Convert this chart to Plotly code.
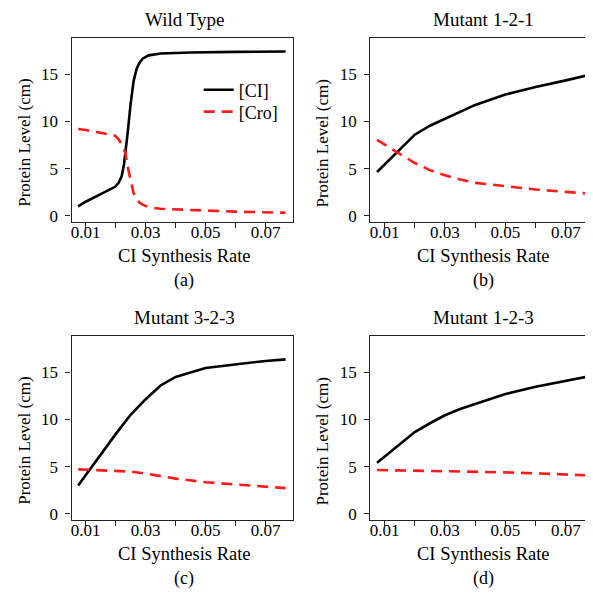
import plotly.graph_objects as go

# ---------------- data ----------------
wt_x = [0.0075, 0.01, 0.015, 0.0198, 0.021, 0.022, 0.0228, 0.0233, 0.024, 0.025,
        0.026, 0.027, 0.028, 0.029, 0.031, 0.035, 0.045, 0.06, 0.0767]
wt_ci = [1.0, 1.5, 2.3, 3.08, 3.5, 4.2, 5.5, 6.75, 8.8, 11.9,
         14.3, 15.6, 16.25, 16.65, 17.0, 17.2, 17.3, 17.37, 17.41]
wt_cro = [9.2, 9.1, 8.8, 8.5, 8.1, 7.6, 7.0, 6.6, 5.2, 3.6,
          2.4, 1.75, 1.4, 1.2, 0.92, 0.75, 0.6, 0.45, 0.34]

mut_x = [0.0075, 0.014, 0.02, 0.025, 0.03, 0.035, 0.04, 0.05, 0.06, 0.07, 0.0767]
m121_ci = [4.65, 6.72, 8.6, 9.55, 10.3, 11.05, 11.75, 12.85, 13.65, 14.35, 14.85]
m121_cro = [8.04, 6.8, 5.6, 4.85, 4.3, 3.85, 3.5, 3.15, 2.8, 2.55, 2.38]
m323_ci = [3.0, 5.85, 8.45, 10.5, 12.15, 13.6, 14.5, 15.45, 15.85, 16.2, 16.36]
m323_cro = [4.72, 4.65, 4.58, 4.48, 4.27, 4.0, 3.74, 3.36, 3.12, 2.87, 2.73]
m123_ci = [5.42, 7.14, 8.67, 9.6, 10.45, 11.1, 11.64, 12.69, 13.46, 14.09, 14.5]
m123_cro = [4.65, 4.62, 4.58, 4.55, 4.52, 4.5, 4.48, 4.4, 4.3, 4.16, 4.09]

panel_titles = ["Wild Type", "Mutant 1-2-1", "Mutant 3-2-3", "Mutant 1-2-3"]
panel_labels = ["(a)", "(b)", "(c)", "(d)"]
x_title = "CI Synthesis Rate"
y_title = "Protein Level (cm)"
series_names = ["[CI]", "[Cro]"]

x_tickvals = [0.01, 0.02, 0.03, 0.04, 0.05, 0.06, 0.07]
x_ticktext = ["0.01", "", "0.03", "", "0.05", "", "0.07"]
y_tickvals = [0, 5, 10, 15]

panels = [
    (wt_x, wt_ci, wt_cro),
    (mut_x, m121_ci, m121_cro),
    (mut_x, m323_ci, m323_cro),
    (mut_x, m123_ci, m123_cro),
]

# ---------------- layout geometry (pixels) ----------------
W, H = 593, 603
FONT = "Liberation Serif"
boxes = [  # left, right, top, bottom in px
    (62.7, 284.0, 30.0, 215.0),
    (362.0, 585.0, 30.0, 215.0),
    (62.7, 284.0, 330.0, 515.0),
    (362.0, 585.0, 330.0, 515.0),
]

def px(xp):
    return xp / W

def py(yp):
    return 1 - yp / H

fig = go.Figure()
annotations = []
for i, ((xs, ci, cro), (l, r, t, b)) in enumerate(zip(panels, boxes)):
    n = "" if i == 0 else str(i + 1)
    xa, ya = "x" + n, "y" + n
    fig.add_trace(go.Scatter(x=xs, y=ci, mode="lines", name=series_names[0],
                             line=dict(color="black", width=2.6),
                             xaxis=xa, yaxis=ya, showlegend=(i == 0),
                             legend="legend"))
    fig.add_trace(go.Scatter(x=xs, y=cro, mode="lines", name=series_names[1],
                             line=dict(color="#ff1a1a", width=2.6, dash="11px,7px"),
                             xaxis=xa, yaxis=ya, showlegend=(i == 0),
                             legend="legend2"))
    axcommon = dict(showline=True, mirror=True, linecolor="#222", linewidth=1.3,
                    ticks="outside", ticklen=5, tickwidth=1.2, tickcolor="#222",
                    showgrid=False, zeroline=False,
                    tickfont=dict(family=FONT, size=17, color="black"))
    fig.update_layout(**{
        "xaxis" + n: dict(domain=[px(l), px(r)], range=[0.0053, 0.079],
                          anchor=ya, tickvals=x_tickvals, ticktext=x_ticktext,
                          ticklabelstandoff=-10, **axcommon),
        "yaxis" + n: dict(domain=[py(b), py(t)], range=[-0.6, 18.86],
                          anchor=xa, tickvals=y_tickvals,
                          ticklabelstandoff=4, **axcommon),
    })
    cx = (l + r) / 2
    annotations += [
        dict(text=panel_titles[i], x=px(cx + 2), y=py(t - 30), xref="paper", yref="paper",
             showarrow=False, xanchor="center", yanchor="top", borderpad=0,
             font=dict(family=FONT, size=19, color="black")),
        dict(text=x_title, x=px(cx + 2), y=py(b + 35), xref="paper", yref="paper",
             showarrow=False, xanchor="center", yanchor="middle", borderpad=0,
             font=dict(family=FONT, size=18.5, color="black")),
        dict(text=panel_labels[i], x=px(cx + 2), y=py(b + 59), xref="paper", yref="paper",
             showarrow=False, xanchor="center", yanchor="middle", borderpad=0,
             font=dict(family=FONT, size=18, color="black")),
        dict(text=y_title, x=px(l - 48), y=py(t + 106), xref="paper", yref="paper",
             showarrow=False, xanchor="center", yanchor="middle", textangle=-90,
             font=dict(family=FONT, size=17, color="black")),
    ]

legend_common = dict(xanchor="left", yanchor="top", bgcolor="rgba(0,0,0,0)",
                     borderwidth=0, font=dict(family=FONT, size=18, color="black"))
fig.update_layout(
    width=W, height=H,
    margin=dict(l=0, r=0, t=0, b=0),
    paper_bgcolor="white", plot_bgcolor="white",
    annotations=annotations,
    legend=dict(x=px(190), y=py(64), **legend_common),
    legend2=dict(x=px(190), y=py(86), **legend_common),
)

fig.write_html("out.html")
